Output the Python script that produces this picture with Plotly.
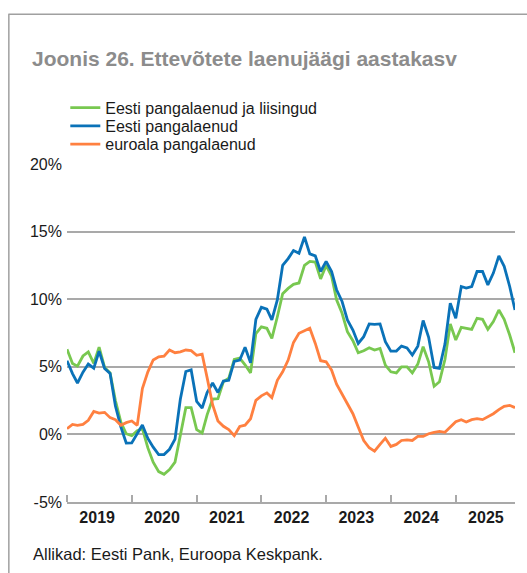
import pandas as pd
import plotly.graph_objects as go

# ---------------- data ----------------
months = pd.date_range("2019-01-01", periods=84, freq="MS")

eesti_pangalaenud_ja_liisingud = [
    6.3, 5.25, 5.05, 5.8, 6.1, 5.25, 6.45, 4.95, 4.55, 2.5,
    0.9, 0.05, -0.1, 0.28, 0.42, -1.0, -2.05, -2.75, -2.95, -2.6,
    -2.05, -0.2, 1.98, 1.98, 0.35, 0.1, 1.45, 2.62, 2.65, 3.9,
    4.15, 5.54, 5.65, 5.15, 4.55, 7.45, 7.95, 7.85, 7.1, 8.7,
    10.4, 10.8, 11.1, 11.2, 12.5, 12.8, 12.75, 11.5, 12.5, 11.7,
    9.95, 8.96, 7.6, 6.93, 6.04, 6.19, 6.41, 6.24, 6.36, 5.12,
    4.63, 4.55, 5.0, 5.0, 4.55, 5.2, 6.49, 5.37, 3.56, 3.89,
    5.54, 8.17, 6.98, 7.92, 7.85, 7.77, 8.59, 8.51, 7.77, 8.34,
    9.2, 8.51, 7.35, 6.04,
]

eesti_pangalaenud = [
    5.45, 4.5, 3.8, 4.6, 5.2, 4.9, 6.15, 4.88, 4.5, 2.1,
    0.54, -0.64, -0.63, 0.05, 0.7, -0.3, -0.94, -1.49, -1.49, -1.1,
    -0.35, 2.6, 4.65, 4.77, 2.45, 1.95, 3.1, 3.8, 3.1, 3.95,
    4.0, 5.4, 5.5, 6.44, 5.3, 8.5, 9.4, 9.26, 8.47, 9.95,
    12.5, 13.0, 13.6, 13.4, 14.6, 13.35, 13.2, 12.05, 12.8, 12.05,
    10.7, 9.83, 8.47, 7.72, 6.73, 7.23, 8.17, 8.14, 8.17, 6.86,
    6.16, 6.16, 6.53, 6.4, 5.87, 6.53, 8.42, 7.18, 4.95, 4.88,
    6.68, 9.7, 8.59, 10.94, 10.82, 10.94, 12.05, 12.05, 11.06, 11.93,
    13.2, 12.43, 10.94, 9.2,
]

euroala_pangalaenud = [
    0.42, 0.74, 0.67, 0.74, 1.04, 1.7, 1.58, 1.63, 1.24, 1.09,
    0.67, 0.87, 0.99, 0.67, 3.39, 4.63, 5.5, 5.74, 5.79, 6.24,
    6.04, 6.11, 6.24, 6.2, 5.85, 5.94, 4.2, 2.2, 1.0, 0.6,
    0.35, -0.1, 0.59, 0.68, 1.16, 2.52, 2.85, 3.07, 2.72, 4.0,
    4.63, 5.5, 6.8, 7.48, 7.67, 7.85, 6.73, 5.45, 5.37, 4.75,
    3.71, 2.97, 2.33, 1.53, 0.54, -0.45, -0.99, -1.24, -0.74, -0.28,
    -0.89, -0.74, -0.45, -0.4, -0.45, -0.15, -0.15, 0.05, 0.15, 0.22,
    0.15, 0.54, 0.94, 1.09, 0.92, 1.09, 1.16, 1.09, 1.29, 1.53,
    1.83, 2.08, 2.15, 1.98,
]

series_names = ["Eesti pangalaenud ja liisingud", "Eesti pangalaenud", "euroala pangalaenud"]
series_colors = ["#78c850", "#0a72b8", "#ff8040"]

years = ["2019", "2020", "2021", "2022", "2023", "2024", "2025"]
y_ticks = [-5, 0, 5, 10, 15, 20]
y_ticktext = ["-5%", "0%", "5%", "10%", "15%", "20%"]

title_text = "Joonis 26. Ettevõtete laenujäägi aastakasv"
source_text = "Allikad: Eesti Pank, Euroopa Keskpank."

# ---------------- layout constants ----------------
W, H = 527, 573
ML, MR, MT, MB = 66.7, 12, 164, 71.3
PH = H - MT - MB
PW = W - ML - MR
FONT = "Liberation Sans, Arial, Helvetica, sans-serif"
GRID = "#a9a9a9"

fig = go.Figure()
values = [eesti_pangalaenud_ja_liisingud, eesti_pangalaenud, euroala_pangalaenud]
legend_ids = ["legend", "legend2", "legend3"]
for name, vals, col, lg in zip(series_names, values, series_colors, legend_ids):
    fig.add_trace(go.Scatter(
        x=months, y=vals, mode="lines", name=name,
        line=dict(color=col, width=2.8),
        legend=lg, hoverinfo="skip",
    ))

legend_rows_px = [107.7, 126.0, 144.3]
legend_common = dict(
    xref="paper", yref="paper", xanchor="left", yanchor="middle",
    bgcolor="rgba(0,0,0,0)", font=dict(family=FONT, size=16, color="#1a1a1a"),
    itemwidth=30,
)
leg_x = (65 - ML) / PW
legends = {}
for lg, py in zip(legend_ids, legend_rows_px):
    legends[lg] = dict(legend_common, x=leg_x, y=(H - MB - py) / PH)

year_ticks = [pd.Timestamp(f"{y}-01-01") for y in years]
year_label_pos = [pd.Timestamp(f"{y}-06-20") for y in years]

fig.update_layout(
    width=W, height=H,
    margin=dict(l=ML, r=MR, t=MT, b=MB, pad=0),
    paper_bgcolor="white", plot_bgcolor="white",
    showlegend=True,
    **legends,
    xaxis=dict(
        range=[months[0], months[-1]],
        showgrid=False, zeroline=False,
        showline=True, linecolor=GRID, linewidth=1.5,
        tickmode="array", tickvals=year_label_pos, ticktext=years,
        ticks="", ticklabelstandoff=0,
        tickfont=dict(family=FONT, size=16, color="#1a1a1a", weight="bold"),
        minor=dict(tickmode="array", tickvals=year_ticks, ticks="inside",
                   ticklen=7, tickwidth=1.5, tickcolor=GRID, showgrid=False),
    ),
    yaxis=dict(
        range=[-5, 20],
        tickmode="array", tickvals=y_ticks, ticktext=y_ticktext,
        showgrid=True, gridcolor=GRID, gridwidth=1.5,
        zeroline=False, showline=False, ticks="",
        ticklabelstandoff=4,
        tickfont=dict(family=FONT, size=16, color="#1a1a1a"),
    ),
    title=dict(
        text=title_text, xref="container", yref="container",
        x=32 / W, xanchor="left", y=1 - 59 / H, yanchor="middle",
        font=dict(family=FONT, size=21, color="#8c8c8c", weight="bold"),
    ),
    annotations=[dict(
        text=source_text, xref="paper", yref="paper",
        x=(30.5 - ML) / PW, xanchor="left",
        y=(H - MB - 554) / PH, yanchor="middle", showarrow=False,
        font=dict(family=FONT, size=16.5, color="#1a1a1a"),
    )],
    shapes=[
        dict(type="line", xref="paper", yref="paper",
             x0=(8 - ML) / PW, x1=(W + 5 - ML) / PW,
             y0=(H - MB - 14.5) / PH, y1=(H - MB - 14.5) / PH,
             line=dict(color="#a0a0a0", width=1.5)),
        dict(type="line", xref="paper", yref="paper",
             x0=(8.5 - ML) / PW, x1=(8.5 - ML) / PW,
             y0=(H - MB - 14.5) / PH, y1=(H - MB - H - 5) / PH,
             line=dict(color="#a0a0a0", width=1.5)),
    ],
)

fig.write_html(
    "out.html",
    config={"displayModeBar": False},
    post_script="document.body.style.margin='0';document.body.style.overflow='hidden';",
)
